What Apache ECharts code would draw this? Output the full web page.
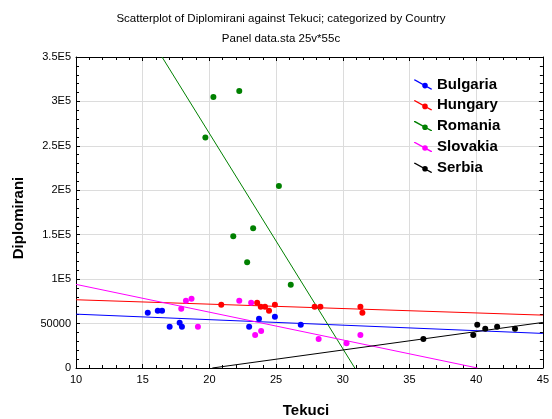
<!DOCTYPE html>
<html>
<head>
<meta charset="utf-8">
<script src="https://cdn.jsdelivr.net/npm/echarts@6/dist/echarts.min.js"></script>
<style>
html,body{margin:0;padding:0;background:#fff;}
#chart{width:552px;height:419px;}
</style>
</head>
<body>
<div id="chart"></div>
<script>
// ---- Data ----
const countries = ['Bulgaria', 'Hungary', 'Romania', 'Slovakia', 'Serbia'];
const countryColors = ['#0000ff', '#ff0000', '#008000', '#ff00ff', '#000000'];

const bulgariaTekuci      = [15.38, 16.13, 16.45, 17.02, 17.77, 17.94, 22.98, 23.72, 24.91, 26.85];
const bulgariaDiplomirani = [62100, 64400, 64400, 46300, 50800, 46300, 46300, 55400, 57600, 48600];

const hungaryTekuci      = [20.89, 23.58, 23.85, 24.17, 24.47, 24.91, 27.89, 28.32, 31.32, 31.47];
const hungaryDiplomirani = [71100, 73400, 68900, 68900, 64400, 71100, 68900, 68900, 68900, 62100];

const romaniaTekuci      = [19.70, 20.30, 21.79, 22.24, 22.83, 23.28, 25.21, 26.10];
const romaniaDiplomirani = [259400, 304900, 148200, 311700, 118900, 157300, 204900, 93700];

const slovakiaTekuci      = [17.89, 18.24, 18.66, 19.14, 22.24, 23.13, 23.43, 23.88, 28.19, 30.28, 31.32];
const slovakiaDiplomirani = [66600, 75600, 77900, 46300, 75600, 73400, 37000, 41500, 32500, 27900, 37000];

const serbiaTekuci      = [36.04, 39.78, 40.08, 40.68, 41.57, 42.91];
const serbiaDiplomirani = [32500, 37000, 48600, 44100, 46300, 44100];

// Fitted lines: visible end points [x1, y1, x2, y2]
const bulgariaFit = [10, 60600, 45, 38900];
const hungaryFit  = [10, 76800, 45, 59500];
const romaniaFit  = [16.45, 350000, 30.90, 0];
const slovakiaFit = [10, 94100, 40.1, 0];
const serbiaFit   = [20.22, 0, 45, 51300];

const xTickLabels = ['10', '15', '20', '25', '30', '35', '40', '45'];
const yTickLabels = ['0', '50000', '1E5', '1.5E5', '2E5', '2.5E5', '3E5', '3.5E5'];

const titleText = 'Scatterplot of Diplomirani against Tekuci; categorized by Country';
const subtitleText = 'Panel data.sta 25v*55c';
const xName = 'Tekuci';
const yName = 'Diplomirani';

// ---- Build ----
const xsAll = [bulgariaTekuci, hungaryTekuci, romaniaTekuci, slovakiaTekuci, serbiaTekuci];
const ysAll = [bulgariaDiplomirani, hungaryDiplomirani, romaniaDiplomirani, slovakiaDiplomirani, serbiaDiplomirani];
const fits = [bulgariaFit, hungaryFit, romaniaFit, slovakiaFit, serbiaFit];

const FONT = '"Liberation Sans", Arial, sans-serif';
const legendIcon = 'path://M0,0 L1.3,0 L18,9.2 L18,10 L16.7,10 L0,0.8 Z M8.2,6.1 A2.8,2.8 0 1,1 13.8,6.1 A2.8,2.8 0 1,1 8.2,6.1 Z';

const series = [];
countries.forEach((c, i) => {
  const f = fits[i];
  series.push({
    name: c + ' fit',
    type: 'line',
    xAxisIndex: 0, yAxisIndex: 0,
    data: [[f[0], f[1]], [f[2], f[3]]],
    symbol: 'none',
    clip: true,
    lineStyle: { color: countryColors[i], width: 1 },
    itemStyle: { color: countryColors[i] },
    silent: true,
    z: 2
  });
});
countries.forEach((c, i) => {
  series.push({
    name: c,
    type: 'scatter',
    xAxisIndex: 0, yAxisIndex: 0,
    data: xsAll[i].map((x, k) => [x, ysAll[i][k]]),
    symbol: 'circle',
    symbolSize: 6,
    itemStyle: { color: countryColors[i], opacity: 1 },
    z: 3
  });
});

const axisCommon = {
  axisLine: { show: true, onZero: false, lineStyle: { color: '#000', width: 1 } },
  axisTick: { show: true, inside: true, length: 4, lineStyle: { color: '#000' } },
  minorTick: { show: true, splitNumber: 5, length: 3, lineStyle: { color: '#000' } }
};

const chart = echarts.init(document.getElementById('chart'), null, { renderer: 'canvas' });
chart.setOption({
  animation: false,
  backgroundColor: '#fff',
  textStyle: { fontFamily: FONT },
  grid: { left: 76, right: 6, top: 57, bottom: 51, show: false },
  legend: {
    data: countries,
    orient: 'vertical',
    left: 409,
    top: 72,
    itemWidth: 18,
    itemHeight: 10,
    itemGap: 5.8,
    icon: legendIcon,
    textStyle: { fontFamily: FONT, fontSize: 15, fontWeight: 'bold', color: '#000', lineHeight: 15 },
    selectedMode: false
  },
  xAxis: [
    Object.assign({
      type: 'value', position: 'bottom', min: 10, max: 45, interval: 5,
      axisLabel: { show: true, color: '#000', fontSize: 11, fontFamily: FONT, margin: 6,
        formatter: v => xTickLabels[Math.round((v - 10) / 5)] },
      splitLine: { show: true, lineStyle: { color: '#dcdcdc', width: 1 } }
    }, axisCommon),
    Object.assign({
      type: 'value', position: 'top', min: 10, max: 45, interval: 5,
      axisLabel: { show: false }, splitLine: { show: false }
    }, axisCommon)
  ],
  yAxis: [
    Object.assign({
      type: 'value', position: 'left', min: 0, max: 350000, interval: 50000,
      axisLabel: { show: true, color: '#000', fontSize: 11, fontFamily: FONT, margin: 5,
        formatter: v => yTickLabels[Math.round(v / 50000)] },
      splitLine: { show: true, lineStyle: { color: '#dcdcdc', width: 1 } }
    }, axisCommon),
    Object.assign({
      type: 'value', position: 'right', min: 0, max: 350000, interval: 50000,
      axisLabel: { show: false }, splitLine: { show: false }
    }, axisCommon)
  ],
  graphic: [
    { type: 'text', x: 281, y: 19, silent: true,
      style: { text: titleText, font: '11.5px ' + FONT, fill: '#000', align: 'center', verticalAlign: 'middle' } },
    { type: 'text', x: 281, y: 39, silent: true,
      style: { text: subtitleText, font: '11.5px ' + FONT, fill: '#000', align: 'center', verticalAlign: 'middle' } },
    { type: 'text', x: 306, y: 411, silent: true,
      style: { text: xName, font: 'bold 15px ' + FONT, fill: '#000', align: 'center', verticalAlign: 'middle' } },
    { type: 'text', x: 18.5, y: 218, rotation: Math.PI / 2, silent: true,
      style: { text: yName, font: 'bold 15px ' + FONT, fill: '#000', align: 'center', verticalAlign: 'middle' } }
  ],
  series: series
});
</script>
</body>
</html>
